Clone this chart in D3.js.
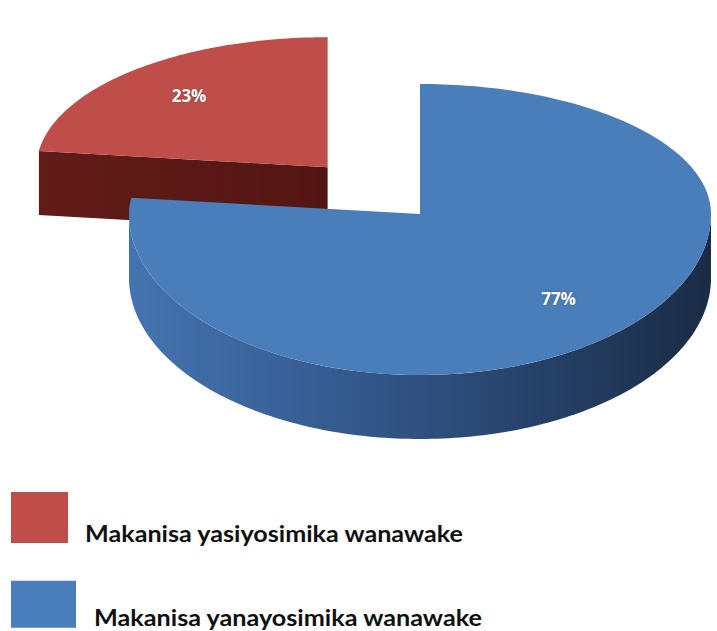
<!DOCTYPE html>
<html>
<head>
<meta charset="utf-8">
<script src="https://cdn.jsdelivr.net/npm/d3@7"></script>
<style>
  body { margin: 0; background: #fff; }
  svg { display: block; }
</style>
</head>
<body>
<svg width="717" height="631"></svg>
<script>
// data, blue first so it starts at 12 o'clock and runs clockwise
const labels = ["Makanisa yanayosimika wanawake", "Makanisa yasiyosimika wanawake"];
const values = [77, 23];
const pctText = ["77%", "23%"];
const topColors = ["#4a7ebb", "#bf4e4b"];
const explode = [0, 0.48];

// legend is drawn in this order (red first)
const legendOrder = [1, 0];

const svg = d3.select("svg");
const defs = svg.append("defs");

const cx = 420, cy = 214;
const rx = 291, ryTop = 130, ryBot = 161;
const depth = 64;

const pie = d3.pie().sort(null).value(d => d)(values);

// project a point on the unit disc (angle from top, clockwise)
function proj(a, r, ox, oy) {
    const c = Math.cos(a);
    return [ox + r * rx * Math.sin(a), oy - r * c * (c > 0 ? ryTop : ryBot)];
}

function arcPoints(a0, a1, ox, oy, dy) {
    const n = Math.max(8, Math.ceil((a1 - a0) / 0.02));
    return d3.range(n + 1).map(i => {
        const p = proj(a0 + (a1 - a0) * i / n, 1, ox, oy);
        return [p[0], p[1] + dy];
    });
}

const line = d3.line();

// gradients
const gBlue = defs.append("linearGradient").attr("id", "blueSide")
    .attr("gradientUnits", "userSpaceOnUse")
    .attr("x1", cx - rx).attr("x2", cx + rx).attr("y1", 0).attr("y2", 0);
[[0, "#4474b0"], [0.25, "#3a629a"], [0.5, "#2f5080"], [0.75, "#243e63"], [1, "#1a2b45"]]
    .forEach(s => gBlue.append("stop").attr("offset", s[0]).attr("stop-color", s[1]));

const gRed = defs.append("linearGradient").attr("id", "redSide")
    .attr("x1", 0).attr("x2", 1).attr("y1", 0).attr("y2", 0);
[[0, "#621c19"], [1, "#531513"]]
    .forEach(s => gRed.append("stop").attr("offset", s[0]).attr("stop-color", s[1]));

const sideFill = ["url(#blueSide)", "url(#redSide)"];

function drawSlice(i) {
    const s = pie[i];
    const mid = (s.startAngle + s.endAngle) / 2;
    const off = proj(mid, explode[i], 0, 0);
    const ox = cx + off[0], oy = cy + off[1];
    const g = svg.append("g");

    // radial walls that face the viewer
    [s.startAngle, s.endAngle].forEach(a => {
        const normal = a === s.startAngle ? a - Math.PI / 2 : a + Math.PI / 2;
        if (Math.cos(normal) < 0) {
            const c = [ox, oy];
            const e = proj(a, 1, ox, oy);
            g.append("path")
                .attr("d", line([c, e, [e[0], e[1] + depth], [c[0], c[1] + depth]]) + "Z")
                .attr("fill", sideFill[i]);
        }
    });

    // outer wall, front half only
    const f0 = Math.max(s.startAngle, Math.PI / 2);
    const f1 = Math.min(s.endAngle, 3 * Math.PI / 2);
    if (f1 > f0) {
        const topArc = arcPoints(f0, f1, ox, oy, 0);
        const botArc = arcPoints(f0, f1, ox, oy, depth).reverse();
        g.append("path")
            .attr("d", line(topArc.concat(botArc)) + "Z")
            .attr("fill", sideFill[i]);
    }

    // top face
    const pts = [[ox, oy]].concat(arcPoints(s.startAngle, s.endAngle, ox, oy, 0));
    g.append("path")
        .attr("d", line(pts) + "Z")
        .attr("fill", topColors[i]);

    // percentage label
    const lp = proj(mid, 0.72, ox, oy);
    g.append("text")
        .attr("x", lp[0]).attr("y", lp[1])
        .attr("text-anchor", "middle")
        .attr("dominant-baseline", "middle")
        .attr("font-family", "'Open Sans', 'DejaVu Sans', sans-serif")
        .attr("font-weight", "bold")
        .attr("font-size", 17)
        .attr("fill", "#fff")
        .style("text-shadow", "0 0 2px rgba(0,0,0,0.35)")
        .text(pctText[i]);
}

// exploded red slice sits behind, so draw it first
drawSlice(1);
drawSlice(0);

// legend
const legend = svg.append("g");
const legendY = d3.scaleBand().domain(legendOrder).range([492, 634]).paddingInner(0.4);
legendOrder.forEach((idx, k) => {
    const y = legendY(idx);
    legend.append("rect")
        .attr("x", 11).attr("y", y)
        .attr("width", k === 0 ? 57 : 65)
        .attr("height", k === 0 ? 51 : 47)
        .attr("fill", topColors[idx]);
    legend.append("text")
        .attr("x", k === 0 ? 85 : 94)
        .attr("y", k === 0 ? y + 50 : y + 45)
        .attr("font-family", "Lato, 'Liberation Sans', sans-serif")
        .attr("font-weight", "bold")
        .attr("font-size", 23)
        .attr("fill", "#111")
        .attr("textLength", k === 0 ? 378 : 388)
        .attr("lengthAdjust", "spacingAndGlyphs")
        .text(labels[idx]);
});
</script>
</body>
</html>
